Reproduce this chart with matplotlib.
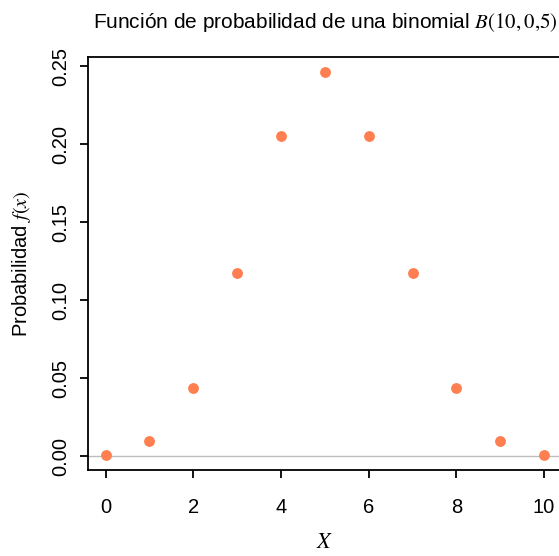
import matplotlib
matplotlib.use("Agg")
import matplotlib.pyplot as plt
import numpy as np

# binomial B(10, 0.5) probabilities
x_vals = [0, 1, 2, 3, 4, 5, 6, 7, 8, 9, 10]
probs = [0.000977, 0.009766, 0.043945, 0.117188, 0.205078, 0.246094,
         0.205078, 0.117188, 0.043945, 0.009766, 0.000977]
x_ticks = [0, 2, 4, 6, 8, 10]
y_ticks = [0.00, 0.05, 0.10, 0.15, 0.20, 0.25]

plt.rcParams['font.family'] = ['Liberation Sans', 'DejaVu Sans']
plt.rcParams['mathtext.fontset'] = 'stix'

W, H = 559, 556
fig = plt.figure(figsize=(W / 100, H / 100), dpi=100)

# R style 4% padding
xpad = 0.04 * (max(x_vals) - min(x_vals))
ypad = 0.04 * (max(probs) - min(probs))
xlim = (min(x_vals) - xpad, max(x_vals) + xpad)
ylim = (min(probs) - ypad, max(probs) + ypad)

left, right, top, bottom = 88, 561.6, 57, 470
ax = fig.add_axes([left / W, 1 - bottom / H, (right - left) / W, (bottom - top) / H])
ax.set_xlim(*xlim)
ax.set_ylim(*ylim)

ax.axhline(0, color='#BEBEBE', lw=1.0, zorder=1)
ax.plot(x_vals, probs, 'o', color='#FF7F50', markersize=7.8, markeredgewidth=0, zorder=3,
        clip_on=False)

for s in ax.spines.values():
    s.set_linewidth(1.3)

ax.set_xticks(x_ticks)
ax.set_yticks(y_ticks)
ax.set_yticklabels([f"{v:.2f}" for v in y_ticks], rotation=90, va='center')
ax.tick_params(axis='both', direction='out', length=6, width=1.3, labelsize=14.5, pad=7)
ax.tick_params(axis='x', pad=14)

ax.set_xlabel('$X$', fontsize=16, labelpad=11)
ax.set_ylabel('Probabilidad $f(x)$', fontsize=14.5, labelpad=13)
fig.text((left + right) / 2 / W, 1 - 22 / H,
         'Función de probabilidad de una binomial $B(10,0{,}5)$',
         ha='center', va='center', fontsize=15)

fig.savefig('out.png', dpi=100)
